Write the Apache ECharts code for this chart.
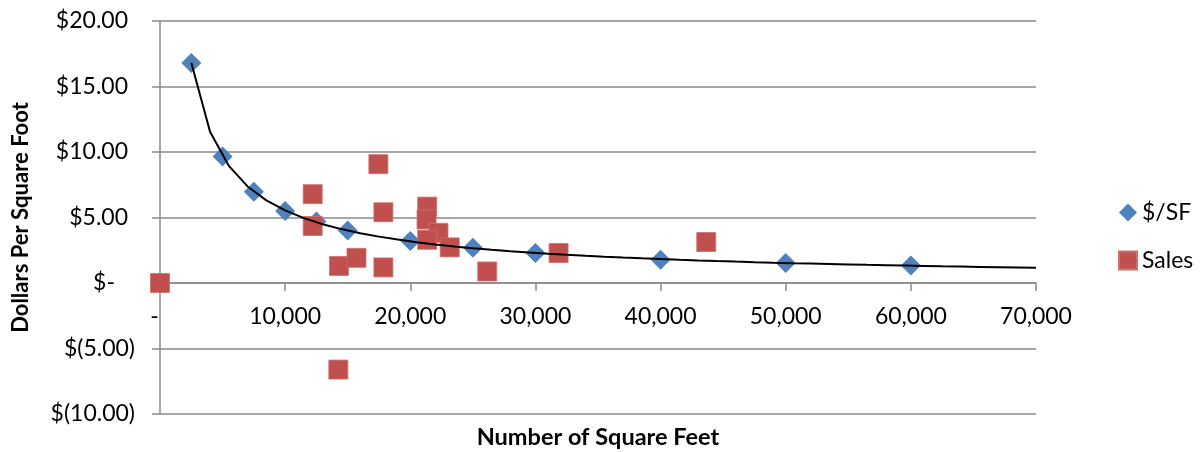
<!DOCTYPE html>
<html>
<head>
<meta charset="utf-8">
<script src="https://cdn.jsdelivr.net/npm/echarts@6/dist/echarts.min.js"></script>
<style>
  html, body { margin: 0; padding: 0; background: #fff; }
  #chart { width: 1201px; height: 452px; }
</style>
</head>
<body>
<div id="chart"></div>
<script>
// Price per square foot by building size
const perSfSqFt = [2500, 5000, 7500, 10000, 12500, 15000, 20000, 25000, 30000, 40000, 50000, 60000];
const perSfValue = [16.8, 9.65, 6.96, 5.49, 4.7, 4.0, 3.2, 2.69, 2.29, 1.78, 1.52, 1.34];

// Individual sales
const salesSqFt = [0, 12200, 12200, 17450, 17850, 14300, 15700, 17850, 21350, 21300, 22250, 21350, 23150, 26150, 14250, 31850, 43650];
const salesValue = [0, 6.78, 4.35, 9.07, 5.40, 1.30, 1.92, 1.19, 5.83, 4.85, 3.83, 3.30, 2.72, 0.88, -6.61, 2.29, 3.13];

// Axis ticks
const xTicks = [0, 10000, 20000, 30000, 40000, 50000, 60000, 70000];
const yTicks = [-10, -5, 0, 5, 10, 15, 20];

const seriesNames = ['$/SF', 'Sales'];

// Power trendline (y = a * x^b), least squares in log-log space on the $/SF series
function powerFit(xs, ys) {
  const n = xs.length;
  let sx = 0, sy = 0, sxx = 0, sxy = 0;
  for (let i = 0; i < n; i++) {
    const lx = Math.log(xs[i]), ly = Math.log(ys[i]);
    sx += lx; sy += ly; sxx += lx * lx; sxy += lx * ly;
  }
  const b = (n * sxy - sx * sy) / (n * sxx - sx * sx);
  const a = Math.exp((sy - b * sx) / n);
  return x => a * Math.pow(x, b);
}
const fit = powerFit(perSfSqFt, perSfValue);
const trendStart = perSfSqFt[0];
const trendEnd = xTicks[xTicks.length - 1];
const trendStep = 1500;
const trendData = [];
for (let x = trendStart; x <= trendEnd; x += trendStep) trendData.push([x, fit(x)]);

const perSfData = perSfSqFt.map((x, i) => [x, perSfValue[i]]);
const salesData = salesSqFt.map((x, i) => [x, salesValue[i]]);

const FONT = 'Lato, "Open Sans", sans-serif';
const GRID_GREY = '#8a8a8a';
const LABEL_SIZE = 23;

// Plot box
const GRID = { left: 160, right: 165, top: 21, bottom: 38 };
const CHART_H = 452;
const plotH = CHART_H - GRID.top - GRID.bottom;
const yMin = yTicks[0], yMax = yTicks[yTicks.length - 1];
// horizontal axis sits on the zero line: shift it up from the bottom edge
const xAxisShift = -plotH * (0 - yMin) / (yMax - yMin);

function fmtMoney(v) {
  if (v === 0) return '{z|$-}';
  if (v < 0) return '{n|$(' + Math.abs(v).toFixed(2) + ')}';
  return '{p|$' + v.toFixed(2) + '}';
}
function fmtThousands(v) {
  if (v === 0) return '{z|-}';
  return String(v).replace(/\B(?=(\d{3})+(?!\d))/g, ',');
}

const chart = echarts.init(document.getElementById('chart'), null, { renderer: 'canvas' });
chart.setOption({
  animation: false,
  backgroundColor: '#ffffff',
  textStyle: { fontFamily: FONT },
  grid: Object.assign({ containLabel: false, outerBoundsMode: 'none' }, GRID),
  legend: {
    orient: 'vertical',
    left: 1113,
    top: 196,
    itemWidth: 18,
    itemHeight: 18,
    itemGap: 25,
    textStyle: { fontFamily: FONT, fontSize: LABEL_SIZE, color: '#000' },
    data: [
      { name: seriesNames[0], icon: 'diamond' },
      { name: seriesNames[1], icon: 'rect' }
    ]
  },
  xAxis: {
    type: 'value',
    position: 'bottom',
    offset: xAxisShift,
    min: xTicks[0],
    max: xTicks[xTicks.length - 1],
    interval: xTicks[1] - xTicks[0],
    name: 'Number of Square Feet',
    nameLocation: 'middle',
    nameGap: 142,
    nameTextStyle: { fontFamily: FONT, fontSize: 23.5, fontWeight: 'bold', color: '#000' },
    axisLine: { onZero: false, lineStyle: { color: GRID_GREY, width: 1.5 } },
    axisTick: { show: true, inside: false, length: 8, lineStyle: { color: GRID_GREY, width: 1.5 } },
    axisLabel: {
      margin: 22,
      fontFamily: FONT,
      fontSize: LABEL_SIZE,
      color: '#000',
      formatter: fmtThousands,
      rich: { z: { fontFamily: FONT, fontSize: LABEL_SIZE, color: '#000', padding: [0, 11, 0, 0] } }
    },
    splitLine: { show: false }
  },
  yAxis: {
    type: 'value',
    min: yMin,
    max: yMax,
    interval: yTicks[1] - yTicks[0],
    name: 'Dollars Per Square Foot',
    nameLocation: 'middle',
    nameGap: 128,
    nameRotate: 90,
    nameTextStyle: { fontFamily: FONT, fontSize: 22, fontWeight: 'bold', color: '#000' },
    axisLine: { show: true, onZero: false, lineStyle: { color: GRID_GREY, width: 1.5 } },
    axisTick: { show: true, inside: false, length: 8, lineStyle: { color: GRID_GREY, width: 1.5 } },
    axisLabel: {
      margin: 25,
      fontFamily: FONT,
      fontSize: LABEL_SIZE,
      color: '#000',
      formatter: fmtMoney,
      rich: {
        p: { fontFamily: FONT, fontSize: LABEL_SIZE, color: '#000', padding: [0, 7, 0, 0] },
        z: { fontFamily: FONT, fontSize: LABEL_SIZE, color: '#000', padding: [0, 20, 0, 0] },
        n: { fontFamily: FONT, fontSize: LABEL_SIZE, color: '#000' }
      }
    },
    splitLine: { show: true, lineStyle: { color: GRID_GREY, width: 1.5 } }
  },
  series: [
    {
      name: seriesNames[0],
      type: 'scatter',
      symbol: 'diamond',
      symbolSize: 20,
      z: 2,
      itemStyle: { color: '#4F81BD', opacity: 1 },
      data: perSfData
    },
    {
      name: seriesNames[1],
      type: 'scatter',
      symbol: 'rect',
      symbolSize: 19,
      z: 3,
      itemStyle: { color: '#C0504D', opacity: 1, borderColor: '#cf6e6b', borderWidth: 0.8 },
      data: salesData
    },
    {
      name: 'trend',
      type: 'line',
      showSymbol: false,
      symbol: 'none',
      smooth: false,
      z: 4,
      silent: true,
      lineStyle: { color: '#000', width: 2 },
      data: trendData
    }
  ]
});
</script>
</body>
</html>
